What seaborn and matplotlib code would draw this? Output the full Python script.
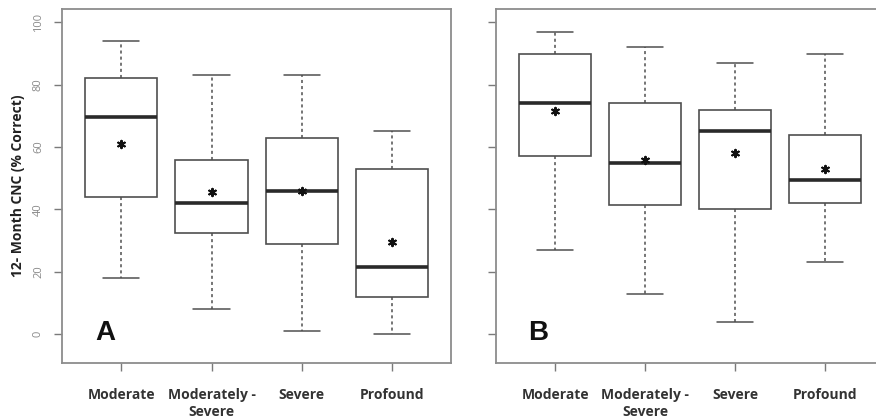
import numpy as np
import pandas as pd
import seaborn as sns
import matplotlib
matplotlib.use("Agg")
import matplotlib.pyplot as plt

# Hearing-loss groups on the x axis
categories = ["Moderate", "Moderately -\nSevere", "Severe", "Profound"]

# Five-number summaries (min, Q1, median, Q3, max) of 12-month CNC scores
panel_a_min = [18, 8, 1, 0]
panel_a_q1 = [44, 32.5, 29, 12]
panel_a_median = [69.5, 42, 46, 21.5]
panel_a_q3 = [82, 56, 63, 53]
panel_a_max = [94, 83, 83, 65]
panel_a_mean = [61, 45.5, 46, 29.5]

panel_b_min = [27, 13, 4, 23]
panel_b_q1 = [57, 41.5, 40, 42]
panel_b_median = [74, 55, 65, 49.5]
panel_b_q3 = [90, 74, 72, 64]
panel_b_max = [97, 92, 87, 90]
panel_b_mean = [71.5, 56, 58, 53]

y_ticks = [0, 20, 40, 60, 80, 100]

sns.set_theme(style="white")
plt.rcParams["font.family"] = ["Open Sans", "DejaVu Sans"]

GREY = "#8a8a8a"
DARK = "#333333"
LINE = "#4f4f4f"


def summary_frame(mins, q1s, meds, q3s, maxs):
    rows = []
    for cat, lo, a, m, b, hi in zip(categories, mins, q1s, meds, q3s, maxs):
        for v in (lo, a, m, b, hi):
            rows.append({"group": cat, "score": v})
    return pd.DataFrame(rows)


def draw_panel(ax, mins, q1s, meds, q3s, maxs, means, letter, show_labels):
    df = summary_frame(mins, q1s, meds, q3s, maxs)
    sns.boxplot(
        data=df, x="group", y="score", order=categories, ax=ax,
        whis=(0, 100), width=0.8, color="white", fliersize=0,
        boxprops=dict(facecolor="white", edgecolor=LINE, linewidth=1.2),
        whiskerprops=dict(color=LINE, linewidth=1.1, linestyle=(0, (2, 2))),
        capprops=dict(color=LINE, linewidth=1.1),
        medianprops=dict(color="#2a2a2a", linewidth=2.6),
    )
    mean_df = pd.DataFrame({"group": categories, "score": means})
    sns.scatterplot(data=mean_df, x="group", y="score", ax=ax, marker=(6, 2, 0),
                    s=28, color="#111111", linewidth=1.5, edgecolor="#111111",
                    zorder=5, legend=False)
    ax.set_xlim(-0.66, 3.66)
    ax.set_ylim(-9.3, 104.3)
    ax.set_yticks(y_ticks)
    if show_labels:
        ax.set_yticklabels([str(t) for t in y_ticks], rotation=90, va="center",
                           color=GREY, fontsize=8)
        ax.set_ylabel("12- Month CNC (% Correct)", fontsize=10, fontweight="bold",
                      color="#222222", labelpad=6)
    else:
        ax.set_yticklabels([])
        ax.set_ylabel("")
    ax.set_xlabel("")
    ax.set_xticks(range(len(categories)))
    ax.set_xticklabels(categories, fontsize=10, fontweight="bold", color=DARK,
                       linespacing=1.3)
    ax.tick_params(axis="both", direction="out", length=6, width=1.0,
                   color="#7a7a7a", bottom=True, left=True)
    ax.tick_params(axis="x", pad=12)
    ax.tick_params(axis="y", pad=7)
    for sp in ax.spines.values():
        sp.set_color("#8c8c8c")
        sp.set_linewidth(1.3)
    ax.text(0.11, 0.085, letter, transform=ax.transAxes,
            family=["Liberation Sans", "DejaVu Sans"],
            fontsize=20, fontweight="bold", color="#111111", ha="center", va="center")


fig = plt.figure(figsize=(8.76, 4.2), dpi=100)
ax_a = fig.add_axes([0.0708, 0.1357, 0.4441, 0.8429])
ax_b = fig.add_axes([0.5658, 0.1357, 0.4441, 0.8429])

draw_panel(ax_a, panel_a_min, panel_a_q1, panel_a_median, panel_a_q3,
           panel_a_max, panel_a_mean, "A", True)
draw_panel(ax_b, panel_b_min, panel_b_q1, panel_b_median, panel_b_q3,
           panel_b_max, panel_b_mean, "B", False)

fig.savefig("out.png", dpi=100, facecolor="white")
